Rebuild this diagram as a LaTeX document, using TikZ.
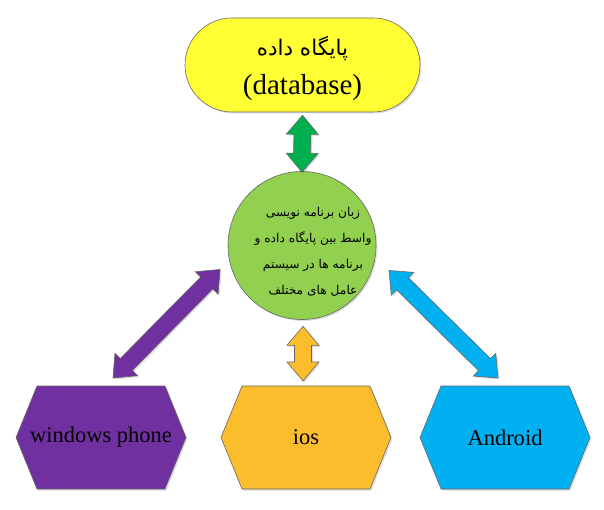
\documentclass[tikz,border=0pt]{standalone}
\usepackage{fontspec}
\setmainfont{Liberation Serif}
\newfontfamily\arabicfont[Script=Arabic]{DejaVu Sans}
\TeXXeTstate=1
\usetikzlibrary{calc,shadows}

\definecolor{dbyellow}{HTML}{FFFF33}
\definecolor{langgreen}{HTML}{92D050}
\definecolor{arrowgreen}{HTML}{00B050}
\definecolor{winpurple}{HTML}{7030A0}
\definecolor{iosorange}{HTML}{FCBD2C}
\definecolor{droidblue}{HTML}{00B0F0}

\def\headlen{19pt}
\def\headhalf{16pt}
\def\shafthalf{8.5pt}

% block arrow with a head at both ends: colour, first tip, second tip
\newcommand\dblarrow[3]{%
  \filldraw[blockarrow, fill=#1] (#2)
    -- ($(#2)!\headlen!(#3)!\headhalf!90:(#3)$)
    -- ($(#2)!\headlen!(#3)!\shafthalf!90:(#3)$)
    -- ($(#3)!\headlen!(#2)!\shafthalf!-90:(#2)$)
    -- ($(#3)!\headlen!(#2)!\headhalf!-90:(#2)$)
    -- (#3)
    -- ($(#3)!\headlen!(#2)!\headhalf!90:(#2)$)
    -- ($(#3)!\headlen!(#2)!\shafthalf!90:(#2)$)
    -- ($(#2)!\headlen!(#3)!\shafthalf!-90:(#3)$)
    -- ($(#2)!\headlen!(#3)!\headhalf!-90:(#3)$)
    -- cycle;}

% flat hexagon round a centre coordinate: centre, colour
\newcommand\hexshape[2]{%
  \filldraw[hexbox, fill=#2] ($(#1)+(-85,0)$) -- ($(#1)+(-64,51.5)$)
    -- ($(#1)+(64,51.5)$) -- ($(#1)+(85,0)$)
    -- ($(#1)+(64,-51.5)$) -- ($(#1)+(-64,-51.5)$) -- cycle;}

\begin{document}
\begin{tikzpicture}[x=1pt, y=1pt,
  outline/.style={draw=black!60, line width=0.6pt},
  softshadow/.style={drop shadow={opacity=0.25, shadow xshift=1.5pt, shadow yshift=-1.5pt}},
  blockarrow/.style={outline, softshadow},
  hexbox/.style={outline, softshadow},
  label/.style={font=\fontsize{22.5}{26}\selectfont, inner sep=0pt}]

\useasboundingbox (0,0) rectangle (604,-510);

%%% database
\node[outline, softshadow, fill=dbyellow, rounded corners=47pt,
      minimum width=235pt, minimum height=94pt] (db) at (302.5,-65) {};
\node[font=\fontsize{21.5}{24}\selectfont\arabicfont] (dbfa) at (302.5,-48) {\beginR پایگاه داده\endR};
\node[font=\fontsize{29}{34}\selectfont] (dben) at (302.5,-88) {(database)};

%%% middle language
\node[outline, softshadow, circle, fill=langgreen, minimum size=148pt] (lang) at (302,-245.5) {};
\node[font=\fontsize{12.2}{26}\selectfont\arabicfont, align=center] (langtext) at (313,-252)
  {\beginR زبان برنامه نویسی\endR\\
   \beginR واسط بین پایگاه داده و\endR\\
   \beginR برنامه ها در سیستم\endR\\
   \beginR عامل های مختلف\endR};

%%% platforms
\coordinate (win) at (101,-437.5);
\coordinate (ios) at (306,-437.5);
\coordinate (droid) at (505,-437.5);
\hexshape{win}{winpurple}
\hexshape{ios}{iosorange}
\hexshape{droid}{droidblue}
\node[label] (wintext) at (win) {windows phone};
\node[label] (iostext) at (ios) {ios};
\node[label] (droidtext) at (droid) {Android};

%%% arrows
\coordinate (g1) at ($(db.south)+(0,-3)$);
\coordinate (g2) at ($(lang.north)+(0,-1)$);
\coordinate (o1) at ($(lang.south)+(1,-6.5)$);
\coordinate (o2) at ($(ios)+(-3,56.5)$);
\coordinate (p1) at ($(lang.center)+(196.3:85.4)$);
\coordinate (p2) at ($(win)+(12,59.5)$);
\coordinate (b1) at ($(lang.center)+(-16:90.5)$);
\coordinate (b2) at ($(droid)+(-7,59.5)$);

\dblarrow{arrowgreen}{g1}{g2}
\dblarrow{iosorange}{o1}{o2}
\dblarrow{winpurple}{p1}{p2}
\dblarrow{droidblue}{b1}{b2}

\end{tikzpicture}
\end{document}
